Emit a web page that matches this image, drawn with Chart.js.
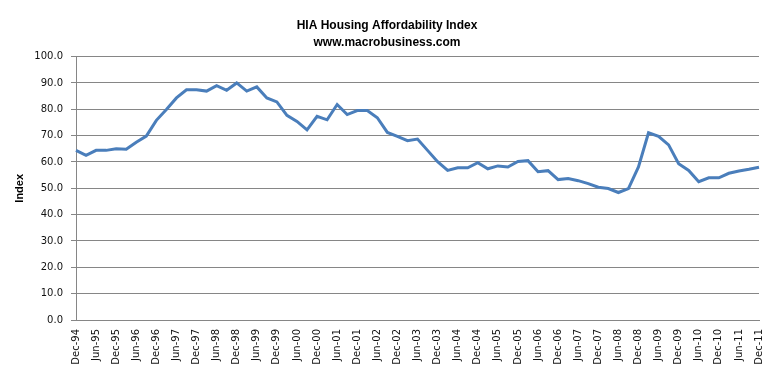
<!DOCTYPE html>
<html>
<head>
<meta charset="utf-8">
<script src="https://cdn.jsdelivr.net/npm/chart.js@4/dist/chart.umd.min.js"></script>
<style>
  html, body { margin: 0; padding: 0; background: #fff; }
  #wrap { width: 780px; height: 375px; }
</style>
</head>
<body>
<div id="wrap"><canvas id="hiaChart"></canvas></div>
<script>
// quarterly, Dec-94 to Dec-11
const quarters = [];
const months = ['Dec', 'Mar', 'Jun', 'Sep'];
for (let i = 0; i < 69; i++) {
  const yr = 94 + Math.floor((i + 3) / 4);
  quarters.push(months[i % 4] + '-' + String(yr % 100).padStart(2, '0'));
}

const indexValues = [
  64.4, 62.5, 64.4, 64.4, 65.0, 64.8, 67.5, 69.8, 75.8, 79.9,
  84.3, 87.4, 87.4, 86.9, 89.0, 87.2, 90.0, 86.9, 88.5, 84.3,
  82.8, 77.7, 75.4, 72.2, 77.3, 76.0, 81.8, 78.0, 79.5, 79.5,
  76.8, 71.2, 69.7, 68.1, 68.7, 64.4, 60.1, 56.8, 57.8, 57.8,
  59.7, 57.4, 58.5, 58.1, 60.2, 60.5, 56.3, 56.7, 53.3, 53.7,
  52.9, 51.8, 50.4, 49.9, 48.4, 49.9, 58.1, 71.1, 69.7, 66.5,
  59.3, 56.8, 52.5, 54.0, 54.0, 55.7, 56.6, 57.2, 58.0
];

const titleLines = ['HIA Housing Affordability Index', 'www.macrobusiness.com'];

const ctx = document.getElementById('hiaChart').getContext('2d');
new Chart(ctx, {
  type: 'line',
  data: {
    labels: quarters,
    datasets: [{
      label: 'Index',
      data: indexValues,
      borderColor: '#4a7ebb',
      borderWidth: 3,
      pointRadius: 0,
      tension: 0,
      fill: false
    }]
  },
  options: {
    responsive: true,
    maintainAspectRatio: false,
    animation: false,
    layout: { padding: { left: 8, right: 14, top: 0, bottom: 0 } },
    plugins: {
      legend: { display: false },
      tooltip: { enabled: false },
      title: {
        display: true,
        text: titleLines,
        color: '#000',
        font: { family: 'Liberation Sans', size: 12, weight: 'bold', lineHeight: 1.4 },
        padding: { top: 17, bottom: 6 }
      }
    },
    scales: {
      x: {
        offset: false,
        grid: { display: false, drawTicks: false },
        border: { color: '#868686', width: 1 },
        ticks: {
          autoSkip: false,
          maxRotation: 90,
          minRotation: 90,
          padding: 9,
          color: '#111',
          font: { family: 'DejaVu Sans', size: 10 },
          callback: function (val, i) { return i % 2 === 0 ? this.getLabelForValue(val) : ''; }
        },
        afterFit: (scale) => { scale.height = 55; }
      },
      y: {
        min: 0,
        max: 100,
        ticks: {
          stepSize: 10,
          padding: 8,
          color: '#111',
          font: { family: 'DejaVu Sans', size: 10 },
          callback: (v) => v.toFixed(1)
        },
        grid: { color: '#868686', lineWidth: 1, tickLength: 5 },
        border: { color: '#868686', width: 1 },
        title: {
          display: true,
          text: 'Index',
          color: '#000',
          font: { family: 'Liberation Sans', size: 11, weight: 'bold' },
          padding: { top: 5, bottom: 4 }
        },
        afterFit: (scale) => { scale.width = 68; }
      }
    }
  }
});
</script>
</body>
</html>
